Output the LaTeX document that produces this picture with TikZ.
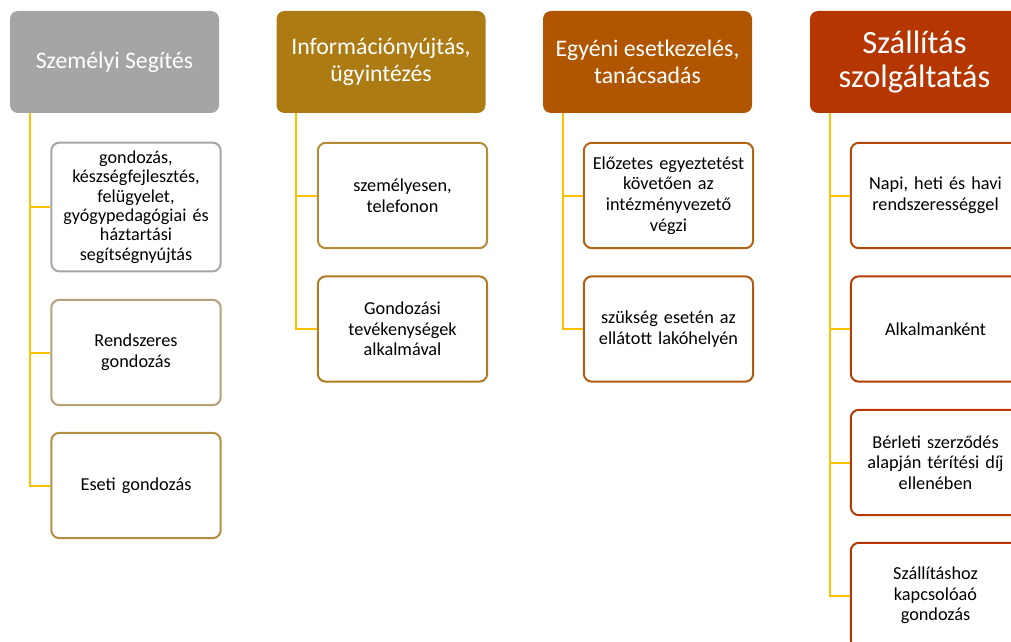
\documentclass[tikz,border=0pt]{standalone}
\usepackage{fontspec}
\setmainfont{Carlito}
\usepackage{tikz}
\usetikzlibrary{calc,positioning}

\definecolor{hgray}{HTML}{A5A5A5}
\definecolor{hgold}{HTML}{AD7B14}
\definecolor{hrust}{HTML}{B05600}
\definecolor{hred}{HTML}{B53600}
\definecolor{bA}{HTML}{A5A5A5}
\definecolor{bB}{HTML}{B5A27A}
\definecolor{bC}{HTML}{B28F45}
\definecolor{bD}{HTML}{B48C35}
\definecolor{bE}{HTML}{B07A22}
\definecolor{bF}{HTML}{B06414}
\definecolor{bG}{HTML}{B05A12}
\definecolor{bH}{HTML}{B2480A}
\definecolor{bI}{HTML}{B33E05}
\definecolor{bJ}{HTML}{B43902}
\definecolor{bK}{HTML}{B53600}
\definecolor{conncol}{HTML}{FFC000}

\tikzset{
  head/.style = {rectangle, rounded corners=6pt, minimum width=156.75pt, minimum height=76.5pt,
    text=white, align=center, inner sep=0pt, font=\fontsize{17.8}{19.8}\selectfont},
  item/.style = {rectangle, rounded corners=6pt, draw=#1, line width=1.5pt, fill=white,
    minimum width=127pt, minimum height=79pt, text width=122pt, align=center, inner sep=0pt,
    font=\fontsize{13.7}{15.5}\selectfont},
  conn/.style = {draw=conncol, line width=1.5pt}
}

\begin{document}
\begin{tikzpicture}[x=0.75pt, y=-0.75pt]
\useasboundingbox (0,0) rectangle (1011,642);
\clip (0,0) rectangle (1011,642);
% headers
\path (114.5,62) node[head, fill=hgray] (h1) {Személyi Segítés};
\path (381,62) node[head, fill=hgold] (h2) {Információnyújtás,\\ügyintézés};
\path (647.5,62) node[head, fill=hrust] (h3) {Egyéni esetkezelés,\\tanácsadás};
\path (914.5,62) node[head, fill=hred, font=\fontsize{24.4}{26}\selectfont] (h4) {Szállítás\\szolgáltatás};
% first column
\path (136,207) node[item=bA, minimum height=96.5pt, font=\fontsize{13.6}{14.6}\selectfont] (c11) {gondozás,\\készségfejlesztés,\\felügyelet,\\gyógypedagógiai és\\háztartási\\segítségnyújtás};
\path (136,352.5) node[item=bB] (c12) {Rendszeres\\gondozás};
\path (136,485.5) node[item=bC] (c13) {Eseti gondozás};
% second column
\path (402.5,195.5) node[item=bD] (c21) {személyesen,\\telefonon};
\path (402.5,329) node[item=bE] (c22) {Gondozási\\tevékenységek\\alkalmával};
% third column
\path (668.5,195.5) node[item=bF] (c31) {Előzetes egyeztetést\\követően az\\intézményvezető\\végzi};
\path (668.5,329) node[item=bG] (c32) {szükség esetén az\\ellátott lakóhelyén};
% fourth column
\path (935.5,195.5) node[item=bH] (c41) {Napi, heti és havi\\rendszerességgel};
\path (935.5,329) node[item=bI] (c42) {Alkalmanként};
\path (935.5,462.5) node[item=bJ] (c43) {Bérleti szerződés\\alapján térítési díj\\ellenében};
\path (935.5,595.5) node[item=bK] (c44) {Szállításhoz\\kapcsolóaó\\gondozás};
% connectors
\foreach \h/\c in {h1/c11,h1/c12,h1/c13,h2/c21,h2/c22,h3/c31,h3/c32,h4/c41,h4/c42,h4/c43,h4/c44}{
  \draw[conn] ($(\h.south west)+(20,0)$) |- (\c.west);
}
\end{tikzpicture}
\end{document}
